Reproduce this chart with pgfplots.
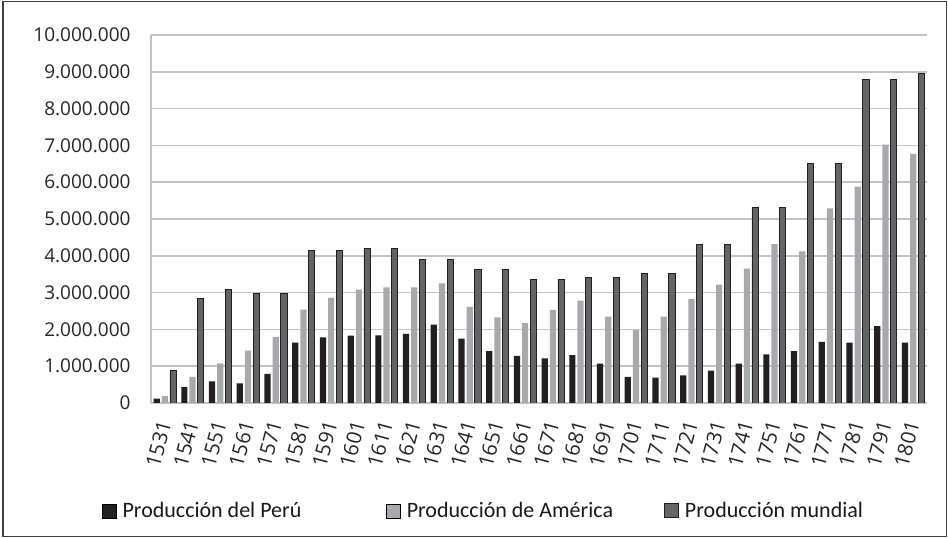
\documentclass[border=0pt]{standalone}
\usepackage{fontspec}
\setmainfont{Open Sans}
\newfontfamily\legfont{Carlito}
\usepackage{pgfplots}
\usepackage{pgfplotstable}
\pgfplotsset{compat=1.18}
\definecolor{peru}{HTML}{231F20}
\definecolor{amer}{HTML}{A7A9AC}
\definecolor{mund}{HTML}{636466}
\definecolor{gridc}{HTML}{C4C4C4}
\definecolor{framec}{HTML}{404040}

\pgfplotstableread{
x peru amer mund
0 120000 190000 890000
1 440000 710000 2830000
2 590000 1080000 3090000
3 530000 1420000 2970000
4 790000 1800000 2970000
5 1640000 2540000 4150000
6 1780000 2860000 4150000
7 1830000 3080000 4210000
8 1840000 3140000 4210000
9 1880000 3140000 3910000
10 2130000 3250000 3910000
11 1750000 2610000 3640000
12 1410000 2330000 3640000
13 1280000 2170000 3350000
14 1210000 2530000 3350000
15 1300000 2780000 3400000
16 1070000 2350000 3400000
17 710000 1980000 3530000
18 690000 2350000 3530000
19 750000 2830000 4310000
20 880000 3220000 4310000
21 1070000 3650000 5320000
22 1320000 4320000 5320000
23 1410000 4120000 6520000
24 1660000 5290000 6520000
25 1640000 5880000 8790000
26 2090000 7020000 8790000
27 1640000 6770000 8950000
}\datatable

\begin{document}
\begin{tikzpicture}
\useasboundingbox (0,0) rectangle (948bp,538bp);
\draw[line width=1.5bp, color=framec] (3bp,1.5bp) rectangle (946.5bp,536.5bp);
\begin{axis}[
  at={(151bp,135bp)}, anchor=south west,
  scale only axis, width=776bp, height=368bp,
  xmin=-0.5, xmax=27.5, ymin=0, ymax=10000000,
  ybar, bar width=6.2bp,
  xtick={0,1,2,3,4,5,6,7,8,9,10,11,12,13,14,15,16,17,18,19,20,21,22,23,24,25,26,27},
  xticklabels={1531,1541,1551,1561,1571,1581,1591,1601,1611,1621,1631,1641,1651,1661,1671,1681,1691,1701,1711,1721,1731,1741,1751,1761,1771,1781,1791,1801},
  ytick={0,1000000,2000000,3000000,4000000,5000000,6000000,7000000,8000000,9000000,10000000},
  yticklabels={0,1.000.000,2.000.000,3.000.000,4.000.000,5.000.000,6.000.000,7.000.000,8.000.000,9.000.000,10.000.000},
  scaled y ticks=false,
  ymajorgrids, grid style={gridc, line width=1.5bp},
  axis x line*=bottom, axis y line*=left,
  axis line style={gridc, line width=1.5bp, -},
  major tick length=0pt,
  yticklabel style={font=\fontsize{19bp}{22bp}\selectfont, color=black!85, xshift=-17bp},
  xticklabel style={font=\fontsize{20.5bp}{22bp}\selectfont, color=black!85, inner sep=1bp, xshift=0bp, yshift=-17bp, rotate=75, anchor=east},
  legend style={at={(axis description cs:-0.067,-0.293)}, anchor=west, legend columns=3, draw=none, fill=none,
    font=\legfont\fontsize{22bp}{26bp}\selectfont, text=black!90,
    /tikz/column 1/.style={column sep=4bp},
    /tikz/column 3/.style={column sep=4bp},
    /tikz/column 5/.style={column sep=4bp},
    /tikz/column 2/.style={column sep=83bp},
    /tikz/column 4/.style={column sep=49bp}},
  legend image code/.code={\draw[#1] (0bp,-7bp) rectangle (14bp,7bp);},
]
\addplot[fill=peru, draw=none, bar shift=-8.2bp] table[x=x, y=peru] {\datatable};
\addplot[fill=amer, draw=none, bar shift=0bp] table[x=x, y=amer] {\datatable};
\addplot[fill=mund, draw=peru, line width=0.9bp, bar shift=8.2bp] table[x=x, y=mund] {\datatable};
\legend{Producción del Perú, Producción de América, Producción mundial}
\end{axis}
\end{tikzpicture}
\end{document}
